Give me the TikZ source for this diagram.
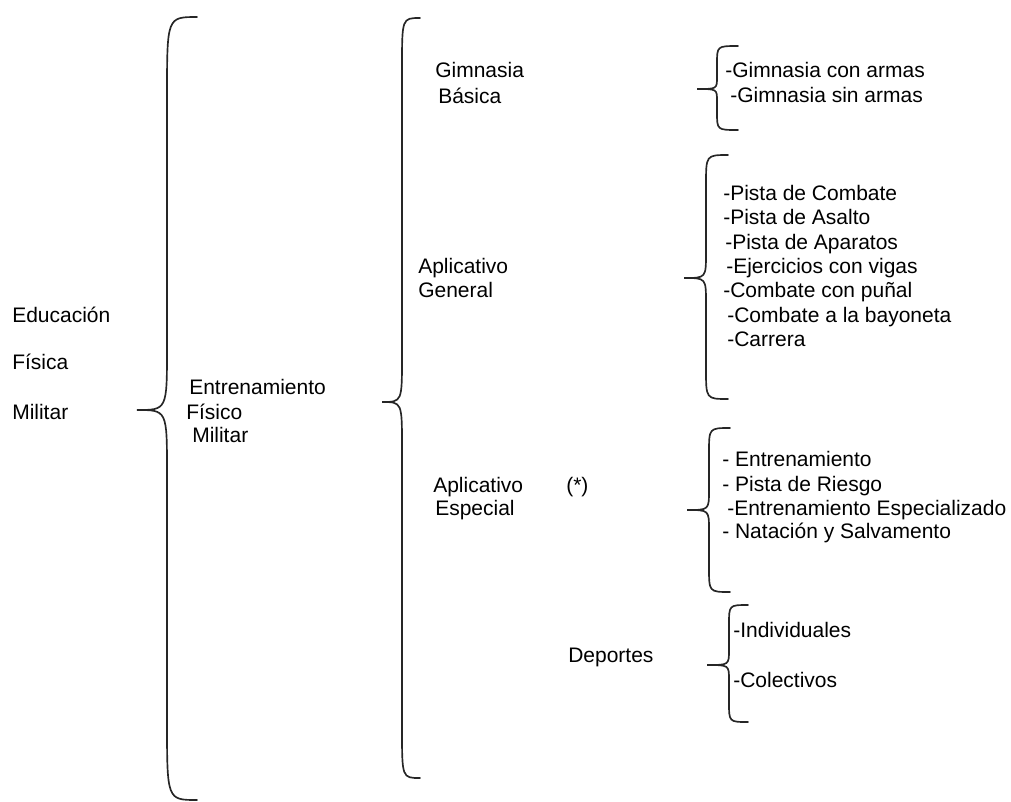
\documentclass[tikz,border=0pt]{standalone}
\usepackage{fontspec}
\setmainfont{Liberation Sans}
\usepackage{tikz}
\usetikzlibrary{positioning,calc}

% curly brace: end x, stem x, tip x, top y, tip y, bottom y, end curl, tip curl
\newcommand{\llave}[8]{%
  \draw[llave] (#1,#4) .. controls (#2,#4) .. (#2,#4+#7) -- (#2,#5-#8)
    .. controls (#2,#5) .. (#3,#5) .. controls (#2,#5) .. (#2,#5+#8)
    -- (#2,#6-#7) .. controls (#2,#6) .. (#1,#6);}

\begin{document}
\begin{tikzpicture}[x=0.75pt, y=-0.75pt,
    font=\fontsize{15.75pt}{18pt}\selectfont,
    txt/.style={anchor=base west, inner sep=0pt},
    llave/.style={line width=1.25pt, black!85, line cap=round}]
    \useasboundingbox (0,0) rectangle (1011,801);

    % braces
    \llave{197}{167}{137}{17}{410}{800}{80}{62}
    \llave{420}{402}{382}{18}{402}{778}{50}{45}
    \llave{738}{717}{697}{46}{89}{130}{18}{12}
    \llave{728}{706}{684}{155}{278}{399}{30}{25}
    \llave{730}{709}{687}{428}{510}{592}{25}{20}
    \llave{748}{729}{707}{605}{665}{722}{20}{15}

    % first level
    \node[txt] (edu1) at (12,322) {Educación};
    \node[txt] (edu2) at (12,369) {Física};
    \node[txt] (edu3) at (12,419) {Militar};

    \node[txt] (efm1) at (189,394) {Entrenamiento};
    \node[txt] (efm2) at (186,419) {Físico};
    \node[txt] (efm3) at (192,442) {Militar};

    % second level
    \node[txt] (gb1) at (435,77) {Gimnasia};
    \node[txt] (gb2) at (438,103) {Básica};
    \node[txt] (ag1) at (418,273) {Aplicativo};
    \node[txt] (ag2) at (418,297) {General};
    \node[txt] (ae1) at (433,492) {Aplicativo};
    \node[txt] (ae2) at (435,515) {Especial};
    \node[txt] (ast) at (566,492) {(*)};
    \node[txt] (dep) at (568,662) {Deportes};

    % lists
    \node[txt] (gim1) at (725,77) {-Gimnasia con armas};
    \node[txt] (gim2) at (730,102) {-Gimnasia sin armas};

    \foreach \t/\x/\y [count=\n] in {-Pista de Combate/723/200,
        -Pista de Asalto/723/224, -Pista de Aparatos/725/249,
        -Ejercicios con vigas/726/273, -Combate con puñal/723/297,
        -Combate a la bayoneta/727/322, -Carrera/727/346}
      \node[txt] (gen\n) at (\x,\y) {\t};

    \foreach \t/\x/\y [count=\n] in {- Entrenamiento/722/466,
        - Pista de Riesgo/722/491, -Entrenamiento Especializado/727/515,
        - Natación y Salvamento/722/538}
      \node[txt] (esp\n) at (\x,\y) {\t};

    \node[txt] (dep1) at (733,637) {-Individuales};
    \node[txt] (dep2) at (733,687) {-Colectivos};
\end{tikzpicture}
\end{document}
